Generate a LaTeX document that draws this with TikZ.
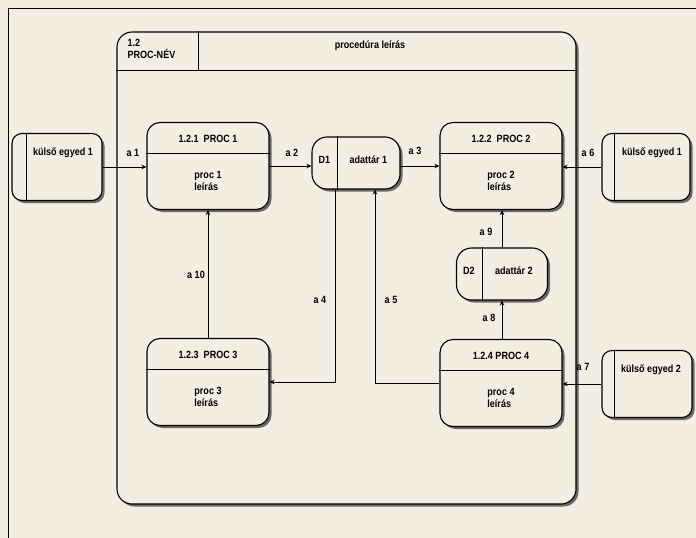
\documentclass[tikz,border=0pt]{standalone}
\usepackage{fontspec}
\setmainfont{Liberation Sans}[FakeStretch=0.86]
\usetikzlibrary{arrows.meta,shadows,calc}

\definecolor{paper}{RGB}{243,238,225}
\definecolor{shade}{RGB}{105,105,105}

\tikzset{
    box/.style={draw, line width=1.1pt, fill=paper,
        drop shadow={shadow xshift=2.5pt, shadow yshift=-2.5pt, fill=shade, opacity=1}},
    proc/.style={box, rounded corners=13pt, minimum width=122pt, minimum height=87pt},
    store/.style={box, rounded corners=15pt, minimum height=52pt},
    ext/.style={box, rounded corners=10pt, minimum width=90pt, minimum height=67pt},
    txt/.style={font=\fontsize{10.5}{12}\selectfont\bfseries, inner sep=0pt, align=center},
    desc/.style={txt, align=left},
    flow/.style={line width=0.8pt, -{Stealth[length=5pt,width=4.5pt]}},
    sep/.style={line width=0.9pt},
}

\begin{document}
\begin{tikzpicture}[x=1pt, y=-1pt]
    \fill[paper] (0,0) rectangle (696,538);
    \useasboundingbox (0,0) rectangle (696,538);
    \draw [line width=0.8pt] (8,538) -- (8,8) -- (696,8);

    % the 1.2 frame
    \node [box, rounded corners=15pt, minimum width=459pt, minimum height=472pt] (frame) at (346.5,268) {};
    \draw [sep] ([yshift=-39pt]frame.north west) -- ([yshift=-39pt]frame.north east);
    \draw [sep] ([xshift=82pt]frame.north west) -- ([xshift=82pt,yshift=-39pt]frame.north west);
    \node [desc, anchor=north west] (fname) at ([xshift=11pt,yshift=-8pt]frame.north west) {1.2\\PROC-NÉV};
    \node [txt] (fdesc) at (370,46) {procedúra leírás};

    % processes
    \node [proc] (p1) at (208,166) {};
    \draw [sep] ([yshift=-31pt]p1.north west) -- ([yshift=-31pt]p1.north east);
    \node [txt] (p1t) at ([yshift=-17pt]p1.north) {1.2.1\ \ PROC 1};
    \node [desc] (p1d) at ([yshift=-59pt]p1.north) {proc 1\\leírás};

    \node [proc] (p2) at (501,166) {};
    \draw [sep] ([yshift=-31pt]p2.north west) -- ([yshift=-31pt]p2.north east);
    \node [txt] (p2t) at ([yshift=-17pt]p2.north) {1.2.2\ \ PROC 2};
    \node [desc] (p2d) at ([yshift=-59pt]p2.north) {proc 2\\leírás};

    \node [proc] (p3) at (208,382) {};
    \draw [sep] ([yshift=-31pt]p3.north west) -- ([yshift=-31pt]p3.north east);
    \node [txt] (p3t) at ([yshift=-17pt]p3.north) {1.2.3\ \ PROC 3};
    \node [desc] (p3d) at ([yshift=-59pt]p3.north) {proc 3\\leírás};

    \node [proc] (p4) at (501,383) {};
    \draw [sep] ([yshift=-31pt]p4.north west) -- ([yshift=-31pt]p4.north east);
    \node [txt] (p4t) at ([yshift=-17pt]p4.north) {1.2.4 PROC 4};
    \node [desc] (p4d) at ([yshift=-59pt]p4.north) {proc 4\\leírás};

    % data stores
    \node [store, minimum width=88pt] (d1) at (356,163) {};
    \draw [sep] ([xshift=26pt]d1.north west) -- ([xshift=26pt]d1.south west);
    \node [txt] (d1n) at ($(d1.west)+(13,-3)$) {D1};
    \node [txt] (d1t) at ($(d1.west)+(57,-3)$) {adattár 1};

    \node [store, minimum width=91pt] (d2) at (502,274) {};
    \draw [sep] ([xshift=26pt]d2.north west) -- ([xshift=26pt]d2.south west);
    \node [txt] (d2n) at ($(d2.west)+(13,-3)$) {D2};
    \node [txt] (d2t) at ($(d2.west)+(58,-3)$) {adattár 2};

    % external entities
    \node [ext] (e1) at (57,167) {};
    \draw [sep] ([xshift=15pt]e1.north west) -- ([xshift=15pt]e1.south west);
    \node [txt] (e1t) at ([xshift=6pt,yshift=14pt]e1.center) {külső egyed 1};

    \node [ext, minimum width=88pt] (e3) at (646,167) {};
    \draw [sep] ([xshift=13pt]e3.north west) -- ([xshift=13pt]e3.south west);
    \node [txt] (e3t) at ([xshift=6pt,yshift=14pt]e3.center) {külső egyed 1};

    \node [ext] (e4) at (647,384) {};
    \draw [sep] ([xshift=13pt]e4.north west) -- ([xshift=13pt]e4.south west);
    \node [txt] (e4t) at ([xshift=4pt,yshift=14pt]e4.center) {külső egyed 2};

    % flows
    \draw [flow] (e1.east) -- (e1.east -| p1.west);
    \draw [flow] (p1.east) -- (p1.east -| d1.west);
    \draw [flow] (p2.west -| d1.east) -- (p2.west);
    \draw [flow] (e3.west) -- (e3.west -| p2.east);
    \draw [flow] (d2.north) -- (d2.north |- p2.south);
    \draw [flow] (d2.south |- p4.north) -- (d2.south);
    \draw [flow] (e4.west) -- (e4.west -| p4.east);
    \draw [flow] (p3.north) -- (p3.north |- p1.south);
    \draw [flow] ([xshift=-21pt]d1.south) |- (p3.east);
    \draw [flow] (p4.west) -| ([xshift=19pt]d1.south);

    \node [txt] (l1) at (133,153) {a 1};
    \node [txt] (l2) at (292,153) {a 2};
    \node [txt] (l3) at (415,151) {a 3};
    \node [txt] (l6) at (588,153) {a 6};
    \node [txt] (l9) at (486,232) {a 9};
    \node [txt] (l8) at (489,318) {a 8};
    \node [txt] (l7) at (583,367) {a 7};
    \node [txt] (l10) at (196,275) {a 10};
    \node [txt] (l4) at (320,300) {a 4};
    \node [txt] (l5) at (391,300) {a 5};
\end{tikzpicture}
\end{document}
